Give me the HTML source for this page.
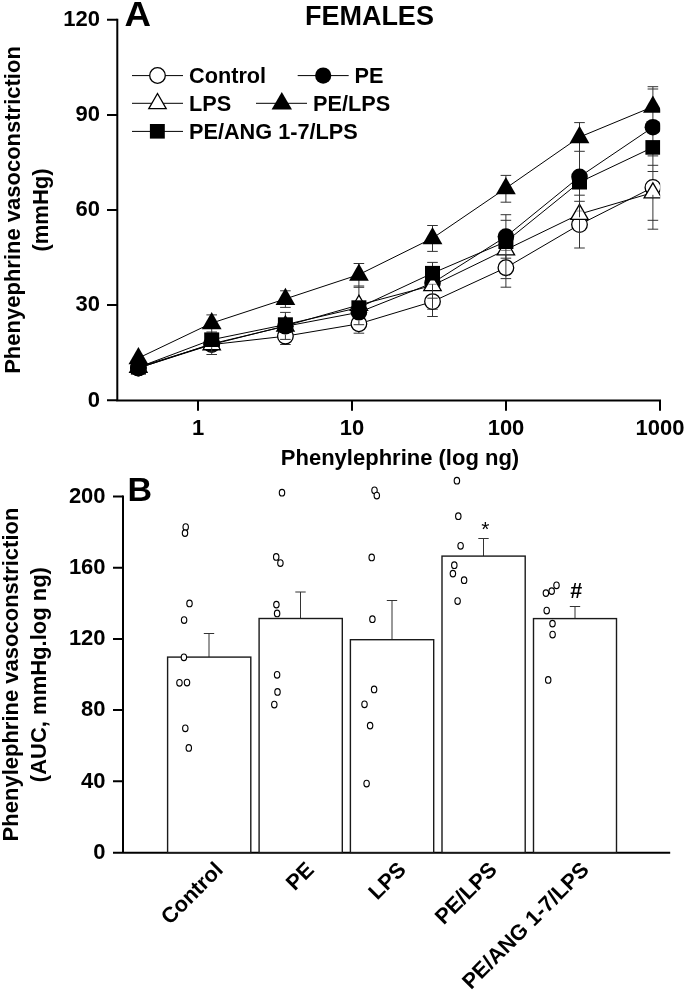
<!DOCTYPE html>
<html><head><meta charset="utf-8"><title>Figure</title>
<style>
html,body{margin:0;padding:0;background:#fff}
svg{display:block}
text{font-family:"Liberation Sans",sans-serif;font-weight:bold;fill:#000}
.tk{font-size:22px}
.ax{stroke:#000;stroke-width:2;fill:none}
</style></head><body>
<svg width="685" height="992" viewBox="0 0 685 992" style="filter:grayscale(1)">
<defs><clipPath id="clipA"><rect x="100" y="0" width="560.2" height="420"/></clipPath></defs>
<rect width="685" height="992" fill="#fff"/>
<!-- ===== Panel A ===== -->
<text transform="translate(124.6,26.1) scale(1.07,1)" font-size="34.3">A</text>
<text x="369.4" y="25" font-size="27" text-anchor="middle">FEMALES</text>
<!-- axes -->
<path class="ax" d="M117.3 18.8V401.5M116.3 400.59999999999997H661.0"/>
<path class="ax" d="M107 19.8H117.3M107 114.9H117.3M107 210.0H117.3M107 305.1H117.3M107 400.2H117.3"/>
<path class="ax" d="M198 400.2v10.6M352 400.2v10.5M506 400.2v10.5M660 400.2v10.5"/>
<g class="tk" text-anchor="end">
<text x="100" y="26.1">120</text>
<text x="100" y="121.2">90</text>
<text x="100" y="216.3">60</text>
<text x="100" y="311.4">30</text>
<text x="100" y="406.5">0</text>
</g>
<g class="tk" text-anchor="middle">
<text x="198" y="434.5">1</text>
<text x="352" y="434.5">10</text>
<text x="506" y="434.5">100</text>
<text x="660" y="434.5">1000</text>
</g>
<text x="400" y="464.7" font-size="22" text-anchor="middle">Phenylephrine (log ng)</text>
<text transform="translate(20.3,210) rotate(-90)" font-size="22" text-anchor="middle">Phenyephrine vasoconstriction</text>
<text transform="translate(48,210) rotate(-90)" font-size="22" text-anchor="middle">(mmHg)</text>
<!-- legend -->
<g stroke="#000" stroke-width="1" fill="none">
<path d="M132 75.6h51M297.7 75.6h51M132 103.3h51M256 103.3h51M132 131.4h51"/>
</g>
<circle cx="157.5" cy="75.5" r="7.8" fill="#fff" stroke="#000" stroke-width="1.3"/>
<circle cx="323.2" cy="75.6" r="8.1" fill="#000"/>
<path d="M157.5 93.5L166.2 108.55H148.8Z" fill="#fff" stroke="#000" stroke-width="1.3"/>
<path d="M281.8 92L292 109.5H271.6Z" fill="#000"/>
<rect x="149.9" y="124" width="14.9" height="14.6" fill="#000"/>
<g class="tk" style="font-size:21.7px">
<text x="189" y="83.2">Control</text>
<text x="354.5" y="83.2">PE</text>
<text x="189" y="110.7">LPS</text>
<text x="313" y="110.7">PE/LPS</text>
<text x="189" y="138.5">PE/ANG 1-7/LPS</text>
</g>
<g clip-path="url(#clipA)">
<polyline points="138.4,368.0 211.7,344.6 285.4,336.2 358.9,323.8 432.5,301.6 505.9,267.7 579.5,224.6 652.9,187.4" fill="none" stroke="#000" stroke-width="1"/>
<polyline points="138.4,368.1 211.7,343.8 285.4,326.3 358.9,312.3 432.5,283.0 505.9,236.6 579.5,176.8 652.9,127.2" fill="none" stroke="#000" stroke-width="1"/>
<polyline points="138.4,367.0 211.7,344.5 285.4,325.9 358.9,305.0 432.5,285.4 505.9,249.7 579.5,214.1 652.9,192.6" fill="none" stroke="#000" stroke-width="1"/>
<polyline points="138.4,358.1 211.7,323.1 285.4,298.9 358.9,274.6 432.5,238.2 505.9,188.2 579.5,137.1 652.9,106.7" fill="none" stroke="#000" stroke-width="1"/>
<polyline points="138.4,367.3 211.7,339.7 285.4,324.6 358.9,307.6 432.5,273.2 505.9,241.7 579.5,182.2 652.9,147.4" fill="none" stroke="#000" stroke-width="1"/>
<path d="M211.7 314.9V354.5M206.4 314.9h10.6M206.4 332.0h10.6M206.4 354.5h10.6M285.4 290.8V307.4M285.4 312.4V344.5M280.1 290.8h10.6M280.1 307.4h10.6M280.1 312.4h10.6M280.1 344.5h10.6M358.9 263.5V333.2M353.6 263.5h10.6M353.6 286.0h10.6M353.6 287.3h10.6M353.6 333.2h10.6M432.5 225.5V251.4M432.5 262.4V316.5M427.2 225.5h10.6M427.2 251.4h10.6M427.2 262.4h10.6M427.2 309.2h10.6M427.2 316.5h10.6M505.9 175.4V202.2M505.9 214.7V287.2M500.6 175.4h10.6M500.6 202.2h10.6M500.6 214.7h10.6M500.6 220.3h10.6M500.6 258.2h10.6M500.6 278.6h10.6M500.6 287.2h10.6M579.5 122.6V248.0M574.2 122.6h10.6M574.2 151.3h10.6M574.2 195.2h10.6M574.2 201.3h10.6M574.2 248.0h10.6M652.9 86.7V229.2M647.6 86.7h10.6M647.6 89.0h10.6M647.6 155.9h10.6M647.6 165.3h10.6M647.6 171.5h10.6M647.6 220.3h10.6M647.6 229.2h10.6" stroke="#333" stroke-width="1" fill="none"/>
<circle cx="138.4" cy="368.0" r="7.8" fill="#fff" stroke="#000" stroke-width="1.3"/>
<circle cx="211.7" cy="344.6" r="7.8" fill="#fff" stroke="#000" stroke-width="1.3"/>
<circle cx="285.4" cy="336.2" r="7.8" fill="#fff" stroke="#000" stroke-width="1.3"/>
<circle cx="358.9" cy="323.8" r="7.8" fill="#fff" stroke="#000" stroke-width="1.3"/>
<circle cx="432.5" cy="301.6" r="7.8" fill="#fff" stroke="#000" stroke-width="1.3"/>
<circle cx="505.9" cy="267.7" r="7.8" fill="#fff" stroke="#000" stroke-width="1.3"/>
<circle cx="579.5" cy="224.6" r="7.8" fill="#fff" stroke="#000" stroke-width="1.3"/>
<circle cx="652.9" cy="187.4" r="7.8" fill="#fff" stroke="#000" stroke-width="1.3"/>
<circle cx="138.4" cy="368.1" r="8.3" fill="#000"/>
<circle cx="211.7" cy="343.8" r="8.3" fill="#000"/>
<circle cx="285.4" cy="326.3" r="8.3" fill="#000"/>
<circle cx="358.9" cy="312.3" r="8.3" fill="#000"/>
<circle cx="432.5" cy="283.0" r="8.3" fill="#000"/>
<circle cx="505.9" cy="236.6" r="8.3" fill="#000"/>
<circle cx="579.5" cy="176.8" r="8.3" fill="#000"/>
<circle cx="652.9" cy="127.2" r="8.3" fill="#000"/>
<path d="M138.4 357.20L147.1 372.25H129.7Z" fill="#fff" stroke="#000" stroke-width="1.3"/>
<path d="M211.7 334.70L220.4 349.75H203.0Z" fill="#fff" stroke="#000" stroke-width="1.3"/>
<path d="M285.4 316.10L294.1 331.15H276.8Z" fill="#fff" stroke="#000" stroke-width="1.3"/>
<path d="M358.9 295.20L367.6 310.25H350.2Z" fill="#fff" stroke="#000" stroke-width="1.3"/>
<path d="M432.5 275.60L441.2 290.65H423.8Z" fill="#fff" stroke="#000" stroke-width="1.3"/>
<path d="M505.9 239.90L514.6 254.95H497.2Z" fill="#fff" stroke="#000" stroke-width="1.3"/>
<path d="M579.5 204.30L588.2 219.35H570.8Z" fill="#fff" stroke="#000" stroke-width="1.3"/>
<path d="M652.9 182.80L661.6 197.85H644.1Z" fill="#fff" stroke="#000" stroke-width="1.3"/>
<path d="M138.4 346.90L148.3 364.20H128.5Z" fill="#000"/>
<path d="M211.7 311.95L221.6 329.25H201.8Z" fill="#000"/>
<path d="M285.4 287.75L295.3 305.05H275.6Z" fill="#000"/>
<path d="M358.9 263.45L368.8 280.75H349.1Z" fill="#000"/>
<path d="M432.5 227.05L442.4 244.35H422.6Z" fill="#000"/>
<path d="M505.9 177.05L515.8 194.35H496.0Z" fill="#000"/>
<path d="M579.5 125.85L589.4 143.15H569.6Z" fill="#000"/>
<path d="M652.9 95.50L662.8 112.80H643.0Z" fill="#000"/>
<rect x="130.9" y="360.0" width="15" height="14.6" fill="#000"/>
<rect x="204.2" y="332.4" width="15" height="14.6" fill="#000"/>
<rect x="277.9" y="317.3" width="15" height="14.6" fill="#000"/>
<rect x="351.4" y="300.3" width="15" height="14.6" fill="#000"/>
<rect x="425.0" y="265.9" width="15" height="14.6" fill="#000"/>
<rect x="498.4" y="234.4" width="15" height="14.6" fill="#000"/>
<rect x="572.0" y="174.9" width="15" height="14.6" fill="#000"/>
<rect x="645.4" y="140.1" width="15" height="14.6" fill="#000"/>
<path d="M428.3 284.3h8.4" stroke="#888" stroke-width="1" fill="none"/>
<path d="M501.1 250.4h9.6" stroke="#777" stroke-width="1" fill="none"/>
<path d="M576.2 211.0h6.4" stroke="#999" stroke-width="1" fill="none"/>
<path d="M211.7 347.2V353.0M285.4 334.6V339.4M280.1 339.4h10.6M358.9 320.6V324.7M353.6 324.7h10.6M432.5 284.3V308.6M427.3 298.2h10.4M505.9 249.0V276.5M579.5 204.5V217.3M579.5 220.0V233.0M652.9 194.8V197.4" stroke="#333" stroke-width="1" fill="none"/>
</g>
<!-- ===== Panel B ===== -->
<text x="127.6" y="500.8" font-size="34">B</text>
<path class="ax" d="M123.0 495.6V853.8M113 852.8H670.2"/>
<path class="ax" d="M113 496.6H123.0M113 567.8H123.0M113 639.0H123.0M113 710.1H123.0M113 781.3H123.0"/>
<g class="tk" text-anchor="end">
<text x="105.6" y="502.9">200</text>
<text x="105.6" y="574.1">160</text>
<text x="105.6" y="645.3">120</text>
<text x="105.6" y="716.4">80</text>
<text x="105.6" y="787.6">40</text>
<text x="105.6" y="858.8">0</text>
</g>
<text transform="translate(18.2,674.5) rotate(-90)" font-size="22" text-anchor="middle">Phenylephrine vasoconstriction</text>
<text transform="translate(46,674.6) rotate(-90)" font-size="22" text-anchor="middle">(AUC, mmHg.log ng)</text>
<path d="M209.0 657.1V633.5M203.8 633.5h10.4" stroke="#333" stroke-width="1" fill="none"/>
<rect x="167.6" y="657.1" width="83.2" height="195.4" fill="#fff" stroke="#1a1a1a" stroke-width="1.4"/>
<path d="M300.5 618.5V592.0M295.3 592.0h10.4" stroke="#333" stroke-width="1" fill="none"/>
<rect x="259.1" y="618.5" width="83.2" height="234.0" fill="#fff" stroke="#1a1a1a" stroke-width="1.4"/>
<path d="M392.0 639.7V600.5M386.8 600.5h10.4" stroke="#333" stroke-width="1" fill="none"/>
<rect x="350.4" y="639.7" width="83.3" height="212.8" fill="#fff" stroke="#1a1a1a" stroke-width="1.4"/>
<path d="M483.5 556.1V538.5M478.3 538.5h10.4" stroke="#333" stroke-width="1" fill="none"/>
<rect x="442.0" y="556.1" width="83.2" height="296.4" fill="#fff" stroke="#1a1a1a" stroke-width="1.4"/>
<path d="M575.0 618.6V606.5M569.8 606.5h10.4" stroke="#333" stroke-width="1" fill="none"/>
<rect x="533.5" y="618.6" width="83.0" height="233.9" fill="#fff" stroke="#1a1a1a" stroke-width="1.4"/>
<ellipse cx="185.7" cy="527.0" rx="2.7" ry="3.3" fill="#fff" stroke="#000" stroke-width="1.15"/>
<ellipse cx="185.0" cy="533.1" rx="2.7" ry="3.3" fill="#fff" stroke="#000" stroke-width="1.15"/>
<ellipse cx="189.5" cy="603.4" rx="2.7" ry="3.3" fill="#fff" stroke="#000" stroke-width="1.15"/>
<ellipse cx="184.1" cy="620.0" rx="2.7" ry="3.3" fill="#fff" stroke="#000" stroke-width="1.15"/>
<ellipse cx="183.9" cy="657.3" rx="2.7" ry="3.3" fill="#fff" stroke="#000" stroke-width="1.15"/>
<ellipse cx="179.45" cy="682.8" rx="2.7" ry="3.3" fill="#fff" stroke="#000" stroke-width="1.15"/>
<ellipse cx="187.0" cy="682.5" rx="2.7" ry="3.3" fill="#fff" stroke="#000" stroke-width="1.15"/>
<ellipse cx="185.3" cy="728.3" rx="2.7" ry="3.3" fill="#fff" stroke="#000" stroke-width="1.15"/>
<ellipse cx="188.8" cy="747.9" rx="2.7" ry="3.3" fill="#fff" stroke="#000" stroke-width="1.15"/>
<ellipse cx="282.0" cy="492.7" rx="2.7" ry="3.3" fill="#fff" stroke="#000" stroke-width="1.15"/>
<ellipse cx="276.2" cy="556.9" rx="2.7" ry="3.3" fill="#fff" stroke="#000" stroke-width="1.15"/>
<ellipse cx="280.4" cy="563.0" rx="2.7" ry="3.3" fill="#fff" stroke="#000" stroke-width="1.15"/>
<ellipse cx="276.4" cy="604.6" rx="2.7" ry="3.3" fill="#fff" stroke="#000" stroke-width="1.15"/>
<ellipse cx="277.1" cy="613.4" rx="2.7" ry="3.3" fill="#fff" stroke="#000" stroke-width="1.15"/>
<ellipse cx="277.1" cy="674.8" rx="2.7" ry="3.3" fill="#fff" stroke="#000" stroke-width="1.15"/>
<ellipse cx="277.5" cy="691.9" rx="2.7" ry="3.3" fill="#fff" stroke="#000" stroke-width="1.15"/>
<ellipse cx="274.3" cy="704.5" rx="2.7" ry="3.3" fill="#fff" stroke="#000" stroke-width="1.15"/>
<ellipse cx="374.5" cy="490.3" rx="2.7" ry="3.3" fill="#fff" stroke="#000" stroke-width="1.15"/>
<ellipse cx="376.8" cy="495.5" rx="2.7" ry="3.3" fill="#fff" stroke="#000" stroke-width="1.15"/>
<ellipse cx="371.7" cy="557.4" rx="2.7" ry="3.3" fill="#fff" stroke="#000" stroke-width="1.15"/>
<ellipse cx="372.4" cy="619.2" rx="2.7" ry="3.3" fill="#fff" stroke="#000" stroke-width="1.15"/>
<ellipse cx="374.1" cy="689.4" rx="2.7" ry="3.3" fill="#fff" stroke="#000" stroke-width="1.15"/>
<ellipse cx="364.5" cy="704.3" rx="2.7" ry="3.3" fill="#fff" stroke="#000" stroke-width="1.15"/>
<ellipse cx="370.1" cy="725.6" rx="2.7" ry="3.3" fill="#fff" stroke="#000" stroke-width="1.15"/>
<ellipse cx="366.6" cy="783.5" rx="2.7" ry="3.3" fill="#fff" stroke="#000" stroke-width="1.15"/>
<ellipse cx="456.9" cy="480.7" rx="2.7" ry="3.3" fill="#fff" stroke="#000" stroke-width="1.15"/>
<ellipse cx="458.3" cy="516.2" rx="2.7" ry="3.3" fill="#fff" stroke="#000" stroke-width="1.15"/>
<ellipse cx="460.6" cy="545.8" rx="2.7" ry="3.3" fill="#fff" stroke="#000" stroke-width="1.15"/>
<ellipse cx="454.3" cy="565.2" rx="2.7" ry="3.3" fill="#fff" stroke="#000" stroke-width="1.15"/>
<ellipse cx="452.9" cy="573.6" rx="2.7" ry="3.3" fill="#fff" stroke="#000" stroke-width="1.15"/>
<ellipse cx="464.1" cy="580.2" rx="2.7" ry="3.3" fill="#fff" stroke="#000" stroke-width="1.15"/>
<ellipse cx="457.6" cy="601.0" rx="2.7" ry="3.3" fill="#fff" stroke="#000" stroke-width="1.15"/>
<ellipse cx="556.5" cy="585.3" rx="2.7" ry="3.3" fill="#fff" stroke="#000" stroke-width="1.15"/>
<ellipse cx="551.7" cy="591.1" rx="2.7" ry="3.3" fill="#fff" stroke="#000" stroke-width="1.15"/>
<ellipse cx="545.9" cy="593.1" rx="2.7" ry="3.3" fill="#fff" stroke="#000" stroke-width="1.15"/>
<ellipse cx="546.7" cy="610.5" rx="2.7" ry="3.3" fill="#fff" stroke="#000" stroke-width="1.15"/>
<ellipse cx="552.5" cy="623.6" rx="2.7" ry="3.3" fill="#fff" stroke="#000" stroke-width="1.15"/>
<ellipse cx="552.6" cy="634.5" rx="2.7" ry="3.3" fill="#fff" stroke="#000" stroke-width="1.15"/>
<ellipse cx="548.2" cy="679.9" rx="2.7" ry="3.3" fill="#fff" stroke="#000" stroke-width="1.15"/>
<text x="485.4" y="536.2" font-size="21" text-anchor="middle" style="font-weight:normal">*</text>
<text x="576.3" y="598" font-size="21.5" text-anchor="middle">#</text>
<g class="tk" text-anchor="end" style="font-size:21.7px">
<text transform="translate(224.2,871) rotate(-45)">Control</text>
<text transform="translate(315.2,871) rotate(-45)">PE</text>
<text transform="translate(407.2,871) rotate(-45)">LPS</text>
<text transform="translate(498.2,871) rotate(-45)">PE/LPS</text>
<text transform="translate(590.2,871) rotate(-45)">PE/ANG 1-7/LPS</text>
</g>
</svg>
</body></html>
